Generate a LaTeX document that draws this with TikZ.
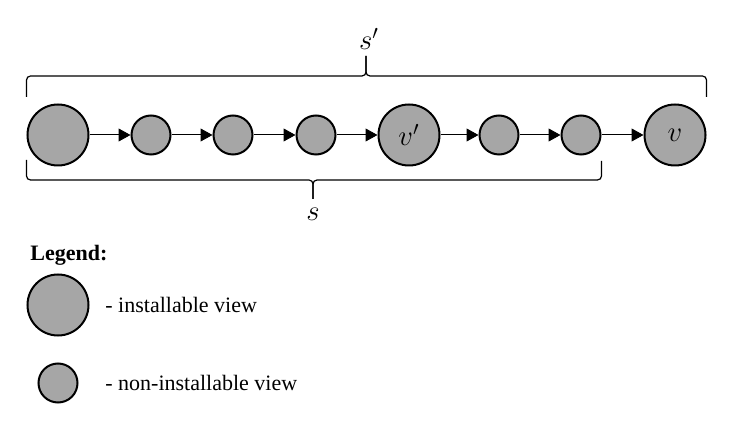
\documentclass[tikz,border=0pt]{standalone}
\usepackage{fontspec}
\setmainfont{Liberation Serif}
\usetikzlibrary{arrows.meta, positioning}
\definecolor{viewgray}{HTML}{A6A6A6}

\begin{document}
\begin{tikzpicture}[x=0.5pt, y=-0.5pt,
        iv/.style={circle, draw=black, line width=1pt, fill=viewgray,
                   minimum size=30.5pt, inner sep=0pt},
        nv/.style={circle, draw=black, line width=1pt, fill=viewgray,
                   minimum size=19.5pt, inner sep=0pt},
        link/.style={-{Triangle[length=6pt, width=6.5pt]}, line width=0.5pt},
        brc/.style={line width=0.6pt, rounded corners=2pt},
        lab/.style={font=\fontsize{14}{16}\selectfont},
        txt/.style={font=\fontsize{11}{13}\selectfont, inner sep=0pt}]
      \useasboundingbox (0,0) rectangle (743,432);
      % chain of views
      \node[iv] (v1) at (58,135) {};
      \node[nv] (v2) at (151,135) {};
      \node[nv] (v3) at (233,135) {};
      \node[nv] (v4) at (316,135) {};
      \node[iv, lab] (v5) at (409,135) {$v'$};
      \node[nv] (v6) at (499,135) {};
      \node[nv] (v7) at (581,135) {};
      \node[iv, lab] (v8) at (675,135) {$v$};
      \draw[link] (v1) -- (v2);
      \draw[link] (v2) -- (v3);
      \draw[link] (v3) -- (v4);
      \draw[link] (v4) -- (v5);
      \draw[link] (v5) -- (v6);
      \draw[link] (v6) -- (v7);
      \draw[link] (v7) -- (v8);
      % braces
      \coordinate (tp) at (366,76);
      \coordinate (bt) at (313,180);
      \draw[brc] (v1.west |- 0,97) -- (v1.west |- tp) -- (tp) -- (366,56);
      \draw[brc] (v8.east |- 0,97) -- (v8.east |- tp) -- (tp) -- (366,56);
      \draw[brc] (v1.west |- 0,160) -- (v1.west |- bt) -- (bt) -- (313,199);
      \draw[brc] (v7.east |- 0,161) -- (v7.east |- bt) -- (bt) -- (313,199);
      \node[lab, anchor=base] (sp) at (369,50) {$s'$};
      \node[lab, anchor=base] (s) at (313,221) {$s$};
      % legend
      \node[txt, anchor=base west, font=\fontsize{11}{13}\selectfont\bfseries] (leg) at (30,261) {Legend:};
      \node[iv] (k1) at (58,305) {};
      \node[nv] (k2) at (58,383) {};
      \node[txt, anchor=west] (t1) at (105,305) {- installable view};
      \node[txt, anchor=west] (t2) at (105,383) {- non-installable view};
    \end{tikzpicture}
\end{document}
